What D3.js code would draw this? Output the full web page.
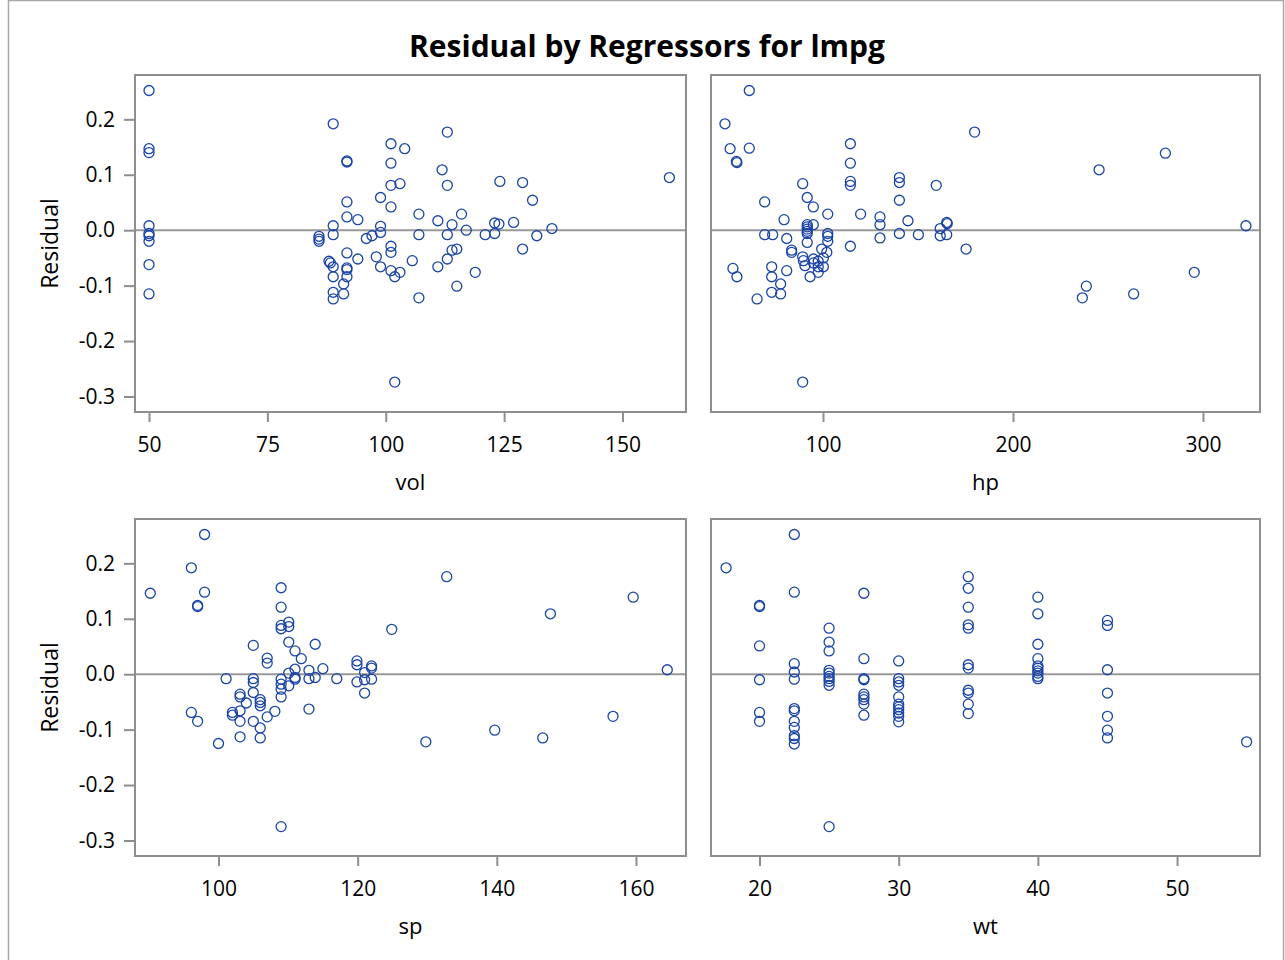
<!DOCTYPE html>
<html>
<head>
<meta charset="utf-8">
<script src="https://cdn.jsdelivr.net/npm/d3@7"></script>
<style>
  body { margin: 0; background: #fff; }
  svg { display: block; }
</style>
</head>
<body>
<svg id="chart" width="1285" height="960"></svg>
<script>
// ---- Data ----
const chartTitle = "Residual by Regressors for lmpg";
const residualTicks = [-0.3, -0.2, -0.1, 0.0, 0.1, 0.2];
const residualTickLabels = ["-0.3", "-0.2", "-0.1", "0.0", "0.1", "0.2"];

const volTicks = [50, 75, 100, 125, 150];
const hpTicks = [100, 200, 300];
const spTicks = [100, 120, 140, 160];
const wtTicks = [20, 30, 40, 50];

// [regressor value, residual]
const volPoints = [
  [50,0.252],[50,0.147],[50,0.140],[50,0.008],[50,-0.006],[50,-0.010],[50,-0.020],[50,-0.062],[50,-0.115],
  [88.9,0.192],[91.8,0.125],[91.8,0.123],[101.1,0.156],[104.0,0.147],[101.1,0.121],[101.1,0.081],[103.0,0.084],
  [98.9,0.059],[91.8,0.051],[101.1,0.042],[91.8,0.024],[94.1,0.019],[88.9,0.008],[88.9,-0.008],[85.9,-0.011],
  [85.9,-0.016],[85.9,-0.020],[98.9,0.007],[98.9,-0.004],[95.9,-0.015],[97.1,-0.010],[101.1,-0.029],[101.1,-0.040],
  [91.8,-0.041],[94.1,-0.052],[98.0,-0.048],[88.0,-0.056],[88.3,-0.059],[88.9,-0.066],[91.8,-0.068],[91.8,-0.071],
  [98.9,-0.066],[101.1,-0.073],[103.0,-0.076],[101.9,-0.084],[91.8,-0.084],[88.9,-0.084],[91.1,-0.097],[88.9,-0.112],
  [91.1,-0.115],[88.9,-0.124],[101.9,-0.274],[105.6,-0.055],
  [113.0,0.177],[111.9,0.109],[113.0,0.081],[124.1,0.088],[128.9,0.086],[131.0,0.054],[159.9,0.095],[107.0,0.029],
  [111.0,0.017],[116.0,0.029],[114.0,0.010],[117.0,0.000],[123.0,0.013],[123.9,0.011],[127.0,0.014],[135.1,0.003],
  [107.0,-0.008],[113.0,-0.008],[121.0,-0.008],[123.0,-0.006],[131.9,-0.010],[114.0,-0.036],[115.0,-0.034],
  [128.9,-0.034],[113.0,-0.052],[111.0,-0.066],[118.9,-0.076],[115.0,-0.101],[107.0,-0.122]
];

const hpPoints = [
  [61.2,0.252],[48.4,0.192],[51.1,0.147],[61.2,0.148],[54.4,0.124],[54.7,0.122],[114.4,0.156],[114.4,0.121],
  [114.4,0.088],[114.4,0.081],[140.2,0.095],[140.2,0.086],[140.2,0.054],[159.6,0.081],[179.8,0.177],[89.3,0.084],
  [91.7,0.059],[69.3,0.051],[94.9,0.042],[102.5,0.029],[119.8,0.029],[130,0.024],[130,0.010],[144.7,0.017],
  [79.5,0.019],[165.1,0.014],[165.4,0.012],[161.7,0.003],
  [91.7,0.010],[91.7,0.006],[91.7,0.002],[91.7,-0.002],[91.7,-0.006],[91.7,-0.022],
  [94.9,0.010],[69.3,-0.008],[73.5,-0.008],[80.9,-0.015],[102.5,-0.006],[102.5,-0.011],[102.5,-0.020],[130,-0.014],
  [140.2,-0.006],[150.2,-0.008],[161.7,-0.010],[165.1,-0.008],[114.4,-0.029],[175.3,-0.034],[83.5,-0.036],
  [83.5,-0.040],[99.3,-0.034],[102,-0.040],[89.3,-0.048],[89.7,-0.055],[95,-0.052],[97.5,-0.056],[95,-0.059],
  [100.2,-0.050],[100.2,-0.066],[90.5,-0.064],[97.5,-0.066],[80.9,-0.073],[93.2,-0.084],[97.5,-0.076],
  [52.6,-0.069],[54.7,-0.084],[73,-0.066],[73,-0.084],[77.7,-0.097],[73,-0.112],[77.7,-0.115],[65.3,-0.124],
  [89.3,-0.274],
  [245.3,0.109],[280.2,0.139],[322.6,0.008],[238.6,-0.101],[236.5,-0.122],[263.5,-0.115],[295.4,-0.076]
];

const spPoints = [
  [90.2,0.146],[98.0,0.252],[96.1,0.192],[98.0,0.148],[97.0,0.124],[97.0,0.122],[109.0,0.156],[109.0,0.121],
  [109.0,0.088],[109.0,0.082],[110.1,0.094],[110.1,0.086],[124.9,0.081],[105.0,0.052],[110.1,0.058],[113.9,0.054],
  [111.0,0.042],[111.9,0.028],[107.0,0.029],[107.0,0.020],[119.9,0.024],[119.9,0.017],[122,0.015],[122,0.011],
  [115.0,0.010],[113.0,0.007],[111.0,0.009],[110.1,0.002],[101.1,-0.008],[105,-0.008],[105,-0.015],[105,-0.033],
  [109,-0.009],[109,-0.018],[109,-0.027],[109,-0.041],[110.1,-0.021],[111,-0.006],[111,-0.009],[113,-0.008],
  [113.9,-0.006],[117,-0.008],[119.9,-0.014],[121,-0.010],[121,0.003],[122,-0.009],[121,-0.034],[103.1,-0.036],
  [103.1,-0.041],[104,-0.052],[106,-0.046],[106,-0.051],[106,-0.057],[113,-0.063],[108.1,-0.067],[107,-0.077],
  [102,-0.069],[102,-0.074],[103.1,-0.066],[103.1,-0.085],[105,-0.085],[106,-0.097],[96.1,-0.069],[97,-0.085],
  [100,-0.125],[103.1,-0.113],[106,-0.115],[109,-0.275],
  [132.8,0.176],[147.7,0.109],[159.6,0.139],[164.5,0.008],[129.8,-0.122],[139.7,-0.101],[146.6,-0.115],[156.7,-0.076]
];

const wtPoints = [
  [17.6,0.192],[22.5,0.252],[22.5,0.148],[20,0.124],[20,0.122],[20,0.051],[20,-0.010],[20,-0.069],[20,-0.085],
  [22.5,0.019],[22.5,0.004],[22.5,-0.009],[22.5,-0.062],[22.5,-0.066],[22.5,-0.085],[22.5,-0.096],[22.5,-0.111],
  [22.5,-0.116],[22.5,-0.126],[25,0.083],[25,0.058],[25,0.042],[25,0.007],[25,0.002],[25,-0.004],[25,-0.008],
  [25,-0.013],[25,-0.020],[25,-0.275],[27.5,0.146],[27.5,0.028],[27.5,-0.008],[27.5,-0.010],[27.5,-0.036],
  [27.5,-0.041],[27.5,-0.046],[27.5,-0.054],[27.5,-0.074],[30,0.024],[30,-0.008],[30,-0.014],[30,-0.020],
  [30,-0.041],[30,-0.054],[30,-0.059],[30,-0.064],[30,-0.070],[30,-0.076],[30,-0.086],[35,0.176],[35,0.155],
  [35,0.121],[35,0.089],[35,0.083],[35,0.017],[35,0.011],[35,-0.029],[35,-0.034],[35,-0.054],[35,-0.071],
  [40,0.139],[40,0.109],[40,0.054],[40,0.028],[40,0.015],[40,0.011],[40,0.006],[40,0.002],[40,-0.004],
  [40,-0.008],[45,0.097],[45,0.088],[45,0.008],[45,-0.034],[45,-0.076],[45,-0.101],[45,-0.115],[55,-0.122]
];

// ---- Layout ----
const W = 1285, H = 960;
const FONT = "'Open Sans', 'DejaVu Sans', sans-serif";
const frameColor = "#8e8e8e";
const markerColor = "#1a44a6";

const panels = [
  { name: "vol", pts: volPoints, ticks: volTicks, xDom: [47.04, 163.41], x0: 135, x1: 686, y0: 75, y1: 412, yAxis: true },
  { name: "hp",  pts: hpPoints,  ticks: hpTicks,  xDom: [41.05, 330.0],  x0: 711, x1: 1260, y0: 75, y1: 412, yAxis: false },
  { name: "sp",  pts: spPoints,  ticks: spTicks,  xDom: [88.0, 167.19],  x0: 135, x1: 686, y0: 519, y1: 856, yAxis: true },
  { name: "wt",  pts: wtPoints,  ticks: wtTicks,  xDom: [16.515, 55.96], x0: 711, x1: 1260, y0: 519, y1: 856, yAxis: false }
];
const yDom = [-0.328, 0.280];

const svg = d3.select("#chart");
svg.append("rect").attr("width", W).attr("height", H).attr("fill", "#fff");
// outer border
svg.append("rect")
  .attr("x", 8.5).attr("y", 0.5).attr("width", 1275).attr("height", 975)
  .attr("fill", "none").attr("stroke", "#a8a8a8").attr("stroke-width", 1.5);

svg.append("text")
  .attr("x", 647).attr("y", 57)
  .attr("text-anchor", "middle")
  .attr("font-family", FONT).attr("font-weight", "bold").attr("font-size", 30)
  .attr("fill", "#000")
  .text(chartTitle);

panels.forEach(p => {
  const x = d3.scaleLinear().domain(p.xDom).range([p.x0, p.x1]);
  const y = d3.scaleLinear().domain(yDom).range([p.y1, p.y0]);
  const g = svg.append("g");

  // x axis
  const xa = g.append("g").attr("transform", `translate(0,${p.y1})`)
    .call(d3.axisBottom(x).tickValues(p.ticks).tickSize(10).tickPadding(15).tickFormat(d3.format("d")));
  xa.select(".domain").remove();
  xa.selectAll(".tick line").attr("stroke", frameColor).attr("stroke-width", 2);
  xa.selectAll(".tick text").attr("font-family", FONT).attr("font-size", 21).attr("fill", "#000");

  // x label
  g.append("text")
    .attr("x", (p.x0 + p.x1) / 2).attr("y", p.y1 + 78)
    .attr("text-anchor", "middle")
    .attr("font-family", FONT).attr("font-size", 22).attr("fill", "#000")
    .text(p.name);

  if (p.yAxis) {
    const ya = g.append("g").attr("transform", `translate(${p.x0},0)`)
      .call(d3.axisLeft(y).tickValues(residualTicks).tickSize(11).tickPadding(9)
        .tickFormat((d, i) => residualTickLabels[i]));
    ya.select(".domain").remove();
    ya.selectAll(".tick line").attr("stroke", frameColor).attr("stroke-width", 2);
    ya.selectAll(".tick text").attr("font-family", FONT).attr("font-size", 21).attr("fill", "#000");

    g.append("text")
      .attr("transform", `translate(58,${(p.y0 + p.y1) / 2}) rotate(-90)`)
      .attr("text-anchor", "middle")
      .attr("font-family", FONT).attr("font-size", 23).attr("fill", "#000")
      .text("Residual");
  }

  // reference line at zero
  g.append("line")
    .attr("x1", p.x0).attr("x2", p.x1)
    .attr("y1", y(0)).attr("y2", y(0))
    .attr("stroke", "#999").attr("stroke-width", 2);

  // markers
  g.append("g").selectAll("circle")
    .data(p.pts)
    .join("circle")
    .attr("cx", d => x(d[0]))
    .attr("cy", d => y(d[1]))
    .attr("r", 5)
    .attr("fill", "none")
    .attr("stroke", markerColor)
    .attr("stroke-width", 1.3);

  // frame
  g.append("rect")
    .attr("x", p.x0).attr("y", p.y0)
    .attr("width", p.x1 - p.x0).attr("height", p.y1 - p.y0)
    .attr("fill", "none").attr("stroke", frameColor).attr("stroke-width", 2);
});
</script>
</body>
</html>
